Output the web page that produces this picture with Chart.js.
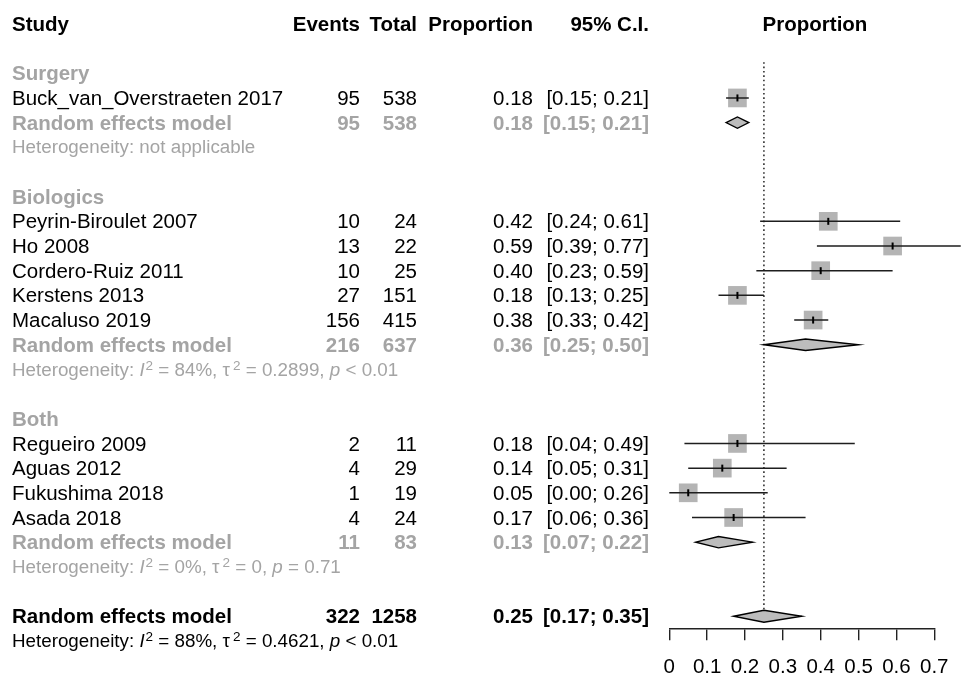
<!DOCTYPE html>
<html>
<head>
<meta charset="utf-8">
<script src="https://cdn.jsdelivr.net/npm/chart.js@4"></script>
<style>
  html, body { margin: 0; padding: 0; background: #fff; }
  #wrap { position: relative; width: 963px; height: 676px; overflow: hidden;
          font-family: "Liberation Sans", Arial, Helvetica, sans-serif; }
  #chart { position: absolute; left: 0; top: 0; }
  .t { position: absolute; white-space: pre; font-size: 20.5px; line-height: 24px; color: #000; }
  .b { font-weight: bold; }
  .g { color: #a4a4a4; }
  .h { font-size: 18.8px; }
  .t sup { font-size: 0.72em; line-height: 0; vertical-align: baseline; position: relative; top: -0.42em; }
  .t sup.i { margin-left: 1px; }
  .t sup.tau { margin-left: 3px; }
</style>
</head>
<body>
<div id="wrap"><canvas id="chart" width="963" height="676" style="width:963px;height:676px"></canvas></div>
<script>
// ---- Individual studies ----
const studies     = ["Buck_van_Overstraeten 2017", "Peyrin-Biroulet 2007", "Ho 2008", "Cordero-Ruiz 2011",
                     "Kerstens 2013", "Macaluso 2019", "Regueiro 2009", "Aguas 2012", "Fukushima 2018", "Asada 2018"];
const studyGroup  = [0, 1, 1, 1, 1, 1, 2, 2, 2, 2];
const events      = [95, 10, 13, 10, 27, 156, 2, 4, 1, 4];
const totals      = [538, 24, 22, 25, 151, 415, 11, 29, 19, 24];
const proportions = [0.18, 0.42, 0.59, 0.40, 0.18, 0.38, 0.18, 0.14, 0.05, 0.17];
const lowerCI     = [0.15, 0.24, 0.39, 0.23, 0.13, 0.33, 0.04, 0.05, 0.00, 0.06];
const upperCI     = [0.21, 0.61, 0.77, 0.59, 0.25, 0.42, 0.49, 0.31, 0.26, 0.36];

// ---- Subgroup random effects models ----
const groupNames  = ["Surgery", "Biologics", "Both"];
const groupEvents = [95, 216, 11];
const groupTotals = [538, 637, 83];
const groupProp   = [0.18, 0.36, 0.13];
const groupLower  = [0.15, 0.25, 0.07];
const groupUpper  = [0.21, 0.50, 0.22];
const groupI2     = [null, "84%", "0%"];
const groupTau2   = [null, "0.2899", "0"];
const groupP      = [null, "< 0.01", "= 0.71"];

// ---- Overall random effects model ----
const overallEvents = 322;
const overallTotal  = 1258;
const overallProp   = 0.25;
const overallLower  = 0.17;
const overallUpper  = 0.35;
const overallI2     = "88%";
const overallTau2   = "0.4621";
const overallP      = "< 0.01";

// ---- Axis ----
const tickValues = [0, 0.1, 0.2, 0.3, 0.4, 0.5, 0.6, 0.7];
const tickLabels = ["0", "0.1", "0.2", "0.3", "0.4", "0.5", "0.6", "0.7"];

// Row layout: header in row 0, then each subgroup (label, studies, pooled, heterogeneity, blank)
const studyRow = [], groupLabelRow = [], groupPoolRow = [], groupHetRow = [];
let r = 2;
groupNames.forEach((g, gi) => {
  groupLabelRow[gi] = r++;
  studies.forEach((s, i) => { if (studyGroup[i] === gi) studyRow[i] = r++; });
  groupPoolRow[gi] = r++;
  groupHetRow[gi] = r++;
  r++;
});
const overallRow = r;
const overallHetRow = r + 1;

const FONT = "'Liberation Sans', Arial, Helvetica, sans-serif";
Chart.defaults.font.family = FONT;

// CI segments, separated by gaps
const ciData = [];
studies.forEach((s, i) => {
  ciData.push({ x: lowerCI[i], y: studyRow[i] });
  ciData.push({ x: upperCI[i], y: studyRow[i] });
  ciData.push({ x: upperCI[i], y: null });
});
const estData = studies.map((s, i) => ({ x: proportions[i], y: studyRow[i] }));

const forestPlugin = {
  id: 'forestPlugin',
  beforeDatasetsDraw(chart) {
    const { ctx, scales: { x, y } } = chart;
    const px = x.getPixelForValue(overallProp);
    ctx.save();
    ctx.strokeStyle = '#000';
    ctx.lineWidth = 1.3;
    ctx.setLineDash([1.6, 2.8]);
    ctx.beginPath();
    ctx.moveTo(px, y.getPixelForValue(1.55));
    ctx.lineTo(px, y.getPixelForValue(overallRow));
    ctx.stroke();
    ctx.restore();
  },
  afterDatasetsDraw(chart) {
    const { ctx, scales: { x, y } } = chart;
    const diamond = (est, lo, hi, row, half) => {
      const cy = y.getPixelForValue(row);
      ctx.beginPath();
      ctx.moveTo(x.getPixelForValue(lo), cy);
      ctx.lineTo(x.getPixelForValue(est), cy - half);
      ctx.lineTo(x.getPixelForValue(hi), cy);
      ctx.lineTo(x.getPixelForValue(est), cy + half);
      ctx.closePath();
      ctx.fill();
      ctx.stroke();
    };
    ctx.save();
    ctx.fillStyle = '#bcbcbc';
    ctx.strokeStyle = '#000';
    ctx.lineWidth = 1.4;
    ctx.lineJoin = 'miter';
    groupNames.forEach((g, gi) => diamond(groupProp[gi], groupLower[gi], groupUpper[gi], groupPoolRow[gi], 5.7));
    diamond(overallProp, overallLower, overallUpper, overallRow, 6);
    ctx.restore();
  }
};

const chart = new Chart(document.getElementById('chart'), {
  type: 'scatter',
  data: {
    datasets: [
      { // estimate marker inside each square
        data: estData,
        pointStyle: 'line', rotation: 90, pointRadius: 3.5,
        borderColor: '#000', borderWidth: 2, clip: false
      },
      { // confidence intervals
        data: ciData, showLine: true, spanGaps: false,
        borderColor: '#1e1e1e', borderWidth: 1.5, pointRadius: 0, clip: false
      },
      { // study weights (squares)
        data: estData,
        pointStyle: 'rect', pointRadius: 13.2,
        backgroundColor: '#b4b4b4', borderColor: '#b4b4b4', borderWidth: 0, clip: false
      }
    ]
  },
  options: {
    responsive: false,
    animation: false,
    events: [],
    layout: { padding: { top: 23.9, left: 669.3, right: 27.3, bottom: 0 } },
    plugins: { legend: { display: false }, tooltip: { enabled: false } },
    scales: {
      x: {
        type: 'linear', position: 'bottom', min: 0, max: 0.7,
        afterFit(scale) { scale.height = 47.7; },
        afterBuildTicks(scale) { scale.ticks = tickValues.map(v => ({ value: v })); },
        ticks: {
          autoSkip: false, maxRotation: 0, padding: 14.5, color: '#000',
          font: { size: 20.5, family: FONT },
          callback: (v, i) => tickLabels[i]
        },
        grid: { display: true, drawOnChartArea: false, drawTicks: true, tickLength: 12, color: '#222', lineWidth: 1.4 },
        border: { display: true, color: '#222', width: 1.4 }
      },
      y: {
        type: 'linear', display: false, reverse: true, min: 0, max: 24.49
      }
    }
  },
  plugins: [forestPlugin]
});

// ---- Table text ----
const W = 963;
const wrap = document.getElementById('wrap');
const yScale = chart.scales.y;
const COL = { study: 12, events: 360, total: 417, prop: 533, ci: 649, plot: 815 };

function addText(txt, x, row, align, cls, isHtml) {
  const el = document.createElement('div');
  el.className = 't ' + (cls || '');
  if (isHtml) el.innerHTML = txt; else el.textContent = txt;
  el.style.top = (yScale.getPixelForValue(row) - 11.9) + 'px';
  if (align === 'right') el.style.right = (W - x) + 'px';
  else if (align === 'center') { el.style.left = x + 'px'; el.style.transform = 'translateX(-50%)'; }
  else el.style.left = x + 'px';
  wrap.appendChild(el);
}
const fmt = v => v.toFixed(2);
const ciText = (lo, hi) => '[' + fmt(lo) + '; ' + fmt(hi) + ']';
function hetHtml(i2, tau2, p) {
  if (i2 === null) return 'Heterogeneity: not applicable';
  return 'Heterogeneity: <i>I</i><sup class="i">2</sup> = ' + i2 + ', \u03c4<sup class="tau">2</sup> = ' + tau2 + ', <i>p</i> ' + p.replace('<', '&lt;');
}
function summaryRow(row, label, ev, tot, est, lo, hi, cls) {
  addText(label, COL.study, row, 'left', cls);
  addText(String(ev), COL.events, row, 'right', cls);
  addText(String(tot), COL.total, row, 'right', cls);
  addText(fmt(est), COL.prop, row, 'right', cls);
  addText(ciText(lo, hi), COL.ci, row, 'right', cls);
}

// header
addText('Study', COL.study, 0, 'left', 'b');
addText('Events', COL.events, 0, 'right', 'b');
addText('Total', COL.total, 0, 'right', 'b');
addText('Proportion', COL.prop, 0, 'right', 'b');
addText('95% C.I.', COL.ci, 0, 'right', 'b');
addText('Proportion', COL.plot, 0, 'center', 'b');

groupNames.forEach((g, gi) => {
  addText(g, COL.study, groupLabelRow[gi], 'left', 'b g');
  studies.forEach((s, i) => {
    if (studyGroup[i] !== gi) return;
    summaryRow(studyRow[i], s, events[i], totals[i], proportions[i], lowerCI[i], upperCI[i], '');
  });
  summaryRow(groupPoolRow[gi], 'Random effects model', groupEvents[gi], groupTotals[gi],
             groupProp[gi], groupLower[gi], groupUpper[gi], 'b g');
  addText(hetHtml(groupI2[gi], groupTau2[gi], groupP[gi]), COL.study, groupHetRow[gi], 'left', 'h g', true);
});

summaryRow(overallRow, 'Random effects model', overallEvents, overallTotal,
           overallProp, overallLower, overallUpper, 'b');
addText(hetHtml(overallI2, overallTau2, overallP), COL.study, overallHetRow, 'left', 'h', true);
</script>
</body>
</html>
